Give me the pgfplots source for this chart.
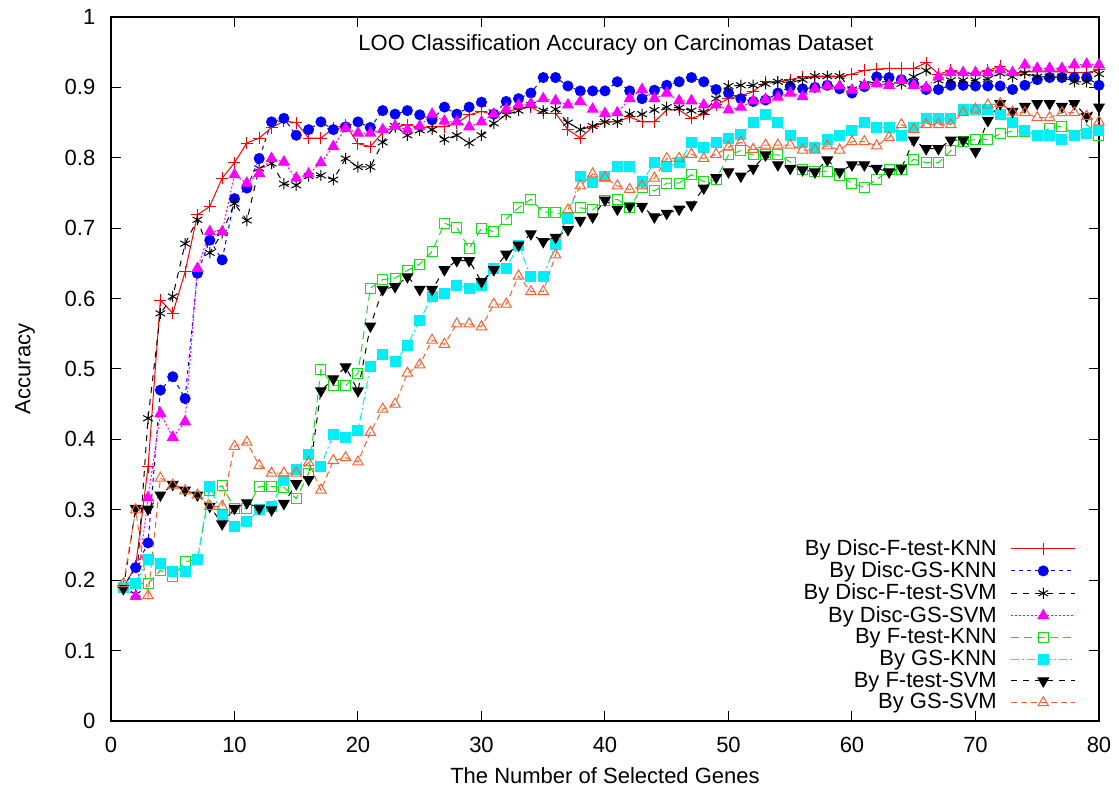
\documentclass[border=0pt]{standalone}
\usepackage{fontspec}
\setmainfont{Liberation Sans}
\usepackage{pgfplots}
\usepackage{pgfplotstable}
\pgfplotsset{compat=1.18}
\definecolor{cgreen}{RGB}{20,225,20}
\definecolor{ccyan}{RGB}{0,238,245}
\definecolor{corange}{RGB}{255,96,48}
\definecolor{cmag}{RGB}{255,0,255}
\pgfplotstableread{
x dfk dgk dfs dgs fk gk fs gs
1 0.19 0.19 0.19 0.19 0.19 0.19 0.188 0.195
2 0.22 0.218 0.18 0.177 0.196 0.196 0.302 0.30
3 0.361 0.253 0.43 0.317 0.195 0.229 0.301 0.178
4 0.598 0.470 0.579 0.437 0.214 0.224 0.321 0.345
5 0.579 0.489 0.603 0.403 0.205 0.212 0.336 0.335
6 0.638 0.458 0.678 0.425 0.226 0.212 0.328 0.327
7 0.719 0.636 0.712 0.643 0.23 0.229 0.321 0.321
8 0.731 0.683 0.665 0.695 0.328 0.333 0.305 0.305
9 0.771 0.655 0.693 0.695 0.334 0.293 0.28 0.305
10 0.793 0.742 0.735 0.776 0.302 0.276 0.302 0.39
11 0.821 0.757 0.711 0.764 0.302 0.283 0.31 0.396
12 0.828 0.799 0.785 0.778 0.333 0.300 0.302 0.363
13 0.843 0.851 0.792 0.799 0.333 0.305 0.300 0.352
14 0.852 0.856 0.763 0.794 0.332 0.342 0.309 0.352
15 0.850 0.832 0.761 0.771 0.316 0.357 0.337 0.352
16 0.828 0.840 0.774 0.777 0.352 0.379 0.343 0.367
17 0.828 0.851 0.775 0.793 0.499 0.362 0.469 0.328
18 0.842 0.840 0.769 0.816 0.477 0.407 0.486 0.370
19 0.847 0.844 0.799 0.842 0.476 0.402 0.503 0.374
20 0.820 0.851 0.787 0.835 0.494 0.412 0.469 0.368
21 0.816 0.843 0.787 0.835 0.615 0.504 0.561 0.41
22 0.836 0.867 0.822 0.840 0.627 0.521 0.613 0.443
23 0.844 0.862 0.845 0.845 0.629 0.510 0.617 0.450
24 0.847 0.867 0.832 0.840 0.640 0.534 0.631 0.494
25 0.843 0.861 0.839 0.845 0.649 0.569 0.613 0.506
26 0.844 0.854 0.840 0.862 0.667 0.603 0.613 0.541
27 0.844 0.872 0.826 0.852 0.707 0.607 0.641 0.535
28 0.849 0.862 0.832 0.851 0.701 0.619 0.654 0.564
29 0.861 0.872 0.821 0.844 0.671 0.615 0.654 0.564
30 0.866 0.879 0.832 0.851 0.700 0.619 0.624 0.560
31 0.861 0.862 0.849 0.862 0.695 0.643 0.641 0.592
32 0.865 0.880 0.861 0.869 0.713 0.643 0.663 0.592
33 0.870 0.884 0.867 0.875 0.729 0.676 0.676 0.632
34 0.872 0.892 0.875 0.877 0.741 0.631 0.692 0.610
35 0.863 0.914 0.867 0.884 0.723 0.631 0.681 0.610
36 0.863 0.914 0.869 0.881 0.723 0.677 0.687 0.662
37 0.840 0.902 0.850 0.875 0.715 0.714 0.698 0.726
38 0.828 0.895 0.840 0.880 0.729 0.774 0.711 0.760
39 0.844 0.895 0.845 0.869 0.726 0.765 0.716 0.777
40 0.851 0.895 0.851 0.863 0.740 0.774 0.740 0.772
41 0.851 0.908 0.851 0.864 0.741 0.787 0.727 0.760
42 0.858 0.895 0.862 0.884 0.729 0.787 0.731 0.755
43 0.851 0.884 0.862 0.897 0.758 0.766 0.731 0.760
44 0.851 0.896 0.868 0.884 0.753 0.793 0.716 0.771
45 0.868 0.903 0.872 0.892 0.764 0.787 0.721 0.799
46 0.868 0.908 0.871 0.881 0.764 0.793 0.727 0.799
47 0.856 0.914 0.867 0.881 0.776 0.822 0.733 0.805
48 0.862 0.908 0.865 0.875 0.766 0.815 0.757 0.799
49 0.875 0.897 0.884 0.875 0.769 0.822 0.772 0.805
50 0.884 0.892 0.902 0.868 0.804 0.828 0.780 0.815
51 0.888 0.884 0.903 0.872 0.810 0.833 0.774 0.822
52 0.894 0.880 0.903 0.881 0.804 0.850 0.785 0.812
53 0.908 0.882 0.905 0.883 0.804 0.862 0.804 0.818
54 0.908 0.892 0.908 0.886 0.804 0.850 0.790 0.818
55 0.911 0.901 0.907 0.892 0.794 0.832 0.785 0.818
56 0.915 0.898 0.911 0.887 0.783 0.822 0.783 0.811
57 0.915 0.900 0.916 0.898 0.780 0.815 0.780 0.811
58 0.915 0.903 0.916 0.902 0.781 0.826 0.797 0.817
59 0.915 0.898 0.916 0.902 0.775 0.832 0.780 0.811
60 0.919 0.892 0.897 0.896 0.764 0.839 0.790 0.823
61 0.924 0.901 0.905 0.903 0.758 0.850 0.790 0.823
62 0.926 0.915 0.908 0.905 0.769 0.843 0.785 0.817
63 0.927 0.914 0.908 0.903 0.783 0.843 0.780 0.829
64 0.927 0.911 0.905 0.910 0.783 0.832 0.785 0.847
65 0.927 0.905 0.915 0.903 0.798 0.843 0.825 0.840
66 0.935 0.897 0.924 0.900 0.793 0.856 0.813 0.847
67 0.919 0.897 0.910 0.915 0.793 0.856 0.813 0.847
68 0.924 0.903 0.910 0.921 0.810 0.856 0.825 0.847
69 0.920 0.903 0.910 0.921 0.823 0.869 0.825 0.864
70 0.920 0.902 0.910 0.921 0.826 0.869 0.809 0.869
71 0.924 0.902 0.912 0.921 0.826 0.869 0.853 0.875
72 0.930 0.902 0.920 0.925 0.834 0.862 0.877 0.877
73 0.920 0.897 0.915 0.921 0.838 0.850 0.866 0.865
74 0.922 0.903 0.920 0.932 0.838 0.839 0.873 0.864
75 0.922 0.911 0.915 0.927 0.832 0.832 0.877 0.857
76 0.922 0.914 0.915 0.927 0.842 0.832 0.877 0.857
77 0.922 0.914 0.915 0.927 0.845 0.826 0.873 0.864
78 0.921 0.914 0.908 0.932 0.832 0.832 0.877 0.864
79 0.921 0.914 0.908 0.933 0.847 0.834 0.859 0.859
80 0.925 0.903 0.919 0.932 0.832 0.839 0.872 0.851
}\data
\begin{document}
\begin{tikzpicture}
\useasboundingbox (-55.5pt,-33pt) rectangle (504pt,360.5pt);
\begin{axis}[
  at={(0,0)}, anchor=south west,
  scale only axis, width=494pt, height=352pt,
  xmin=0, xmax=80, ymin=0, ymax=1,
  xtick={0,10,...,80},
  ytick={0,0.1,0.2,0.3,0.4,0.5,0.6,0.7,0.8,0.9,1},
  yticklabels={0,0.1,0.2,0.3,0.4,0.5,0.6,0.7,0.8,0.9,1},
  /pgf/number format/assume math mode=true,
  tick label style={font=\fontsize{11}{12}\selectfont},
  yticklabel style={xshift=-4.3pt},
  xticklabel style={yshift=-4.3pt},
  major tick length=5pt,
  tick style={black, line width=0.5pt},
  axis line style={line width=0.6pt},
  xlabel={The Number of Selected Genes},
  ylabel={Accuracy},
  label style={font=\fontsize{11}{12}\selectfont},
  xlabel style={at={(axis description cs:0.5,-0.0777)}, anchor=center},
  ylabel style={at={(axis description cs:-0.087,0.5)}, anchor=center},
  clip=false,
  legend plot pos=right,
  legend cell align=right,
  legend style={draw=none, fill=none, at={(0.983,0.001)}, anchor=south east,
    font=\fontsize{11}{12}\selectfont, row sep=-2.3pt,
    /tikz/every odd column/.append style={column sep=5pt}},
  legend image code/.code={\draw[mark repeat=2,mark phase=2,#1] plot coordinates {(0pt,0pt) (16pt,0pt) (32pt,0pt)};},
  every axis plot/.append style={line width=0.5pt},
]
\node[font=\fontsize{11}{12}\selectfont] at (rel axis cs:0.511,0.96) {LOO Classification Accuracy on Carcinomas Dataset};
\addplot[color=red, mark=+, mark size=3pt] table[x=x,y=dfk] {\data};
\addlegendentry{By Disc-F-test-KNN}
\addplot[color=blue, dash pattern=on 2pt off 2pt, mark=*, mark size=2.5pt, mark options={solid}] table[x=x,y=dgk] {\data};
\addlegendentry{By Disc-GS-KNN}
\addplot[color=black, dash pattern=on 3pt off 3pt, mark=asterisk, mark size=2.8pt, mark options={solid}] table[x=x,y=dfs] {\data};
\addlegendentry{By Disc-F-test-SVM}
\addplot[color=cmag, dash pattern=on 1pt off 1pt, mark=triangle*, mark size=3pt, mark options={solid}] table[x=x,y=dgs] {\data};
\addlegendentry{By Disc-GS-SVM}
\addplot[color=cgreen, dash pattern=on 4pt off 2.5pt, mark=square, mark size=2.5pt, mark options={solid}] table[x=x,y=fk] {\data};
\addlegendentry{By F-test-KNN}
\addplot[color=ccyan, dash pattern=on 4pt off 1.5pt on 1pt off 1.5pt, mark=square*, mark size=2.5pt, mark options={solid}] table[x=x,y=gk] {\data};
\addlegendentry{By GS-KNN}
\addplot[color=black, dash pattern=on 3pt off 3pt, mark=triangle*, mark size=3pt, mark options={solid, rotate=180}] table[x=x,y=fs] {\data};
\addlegendentry{By F-test-SVM}
\addplot[color=corange, dash pattern=on 3pt off 2pt, mark=triangle, mark size=3pt, mark options={solid}] table[x=x,y=gs] {\data};
\addlegendentry{By GS-SVM}
\end{axis}
\end{tikzpicture}
\end{document}
